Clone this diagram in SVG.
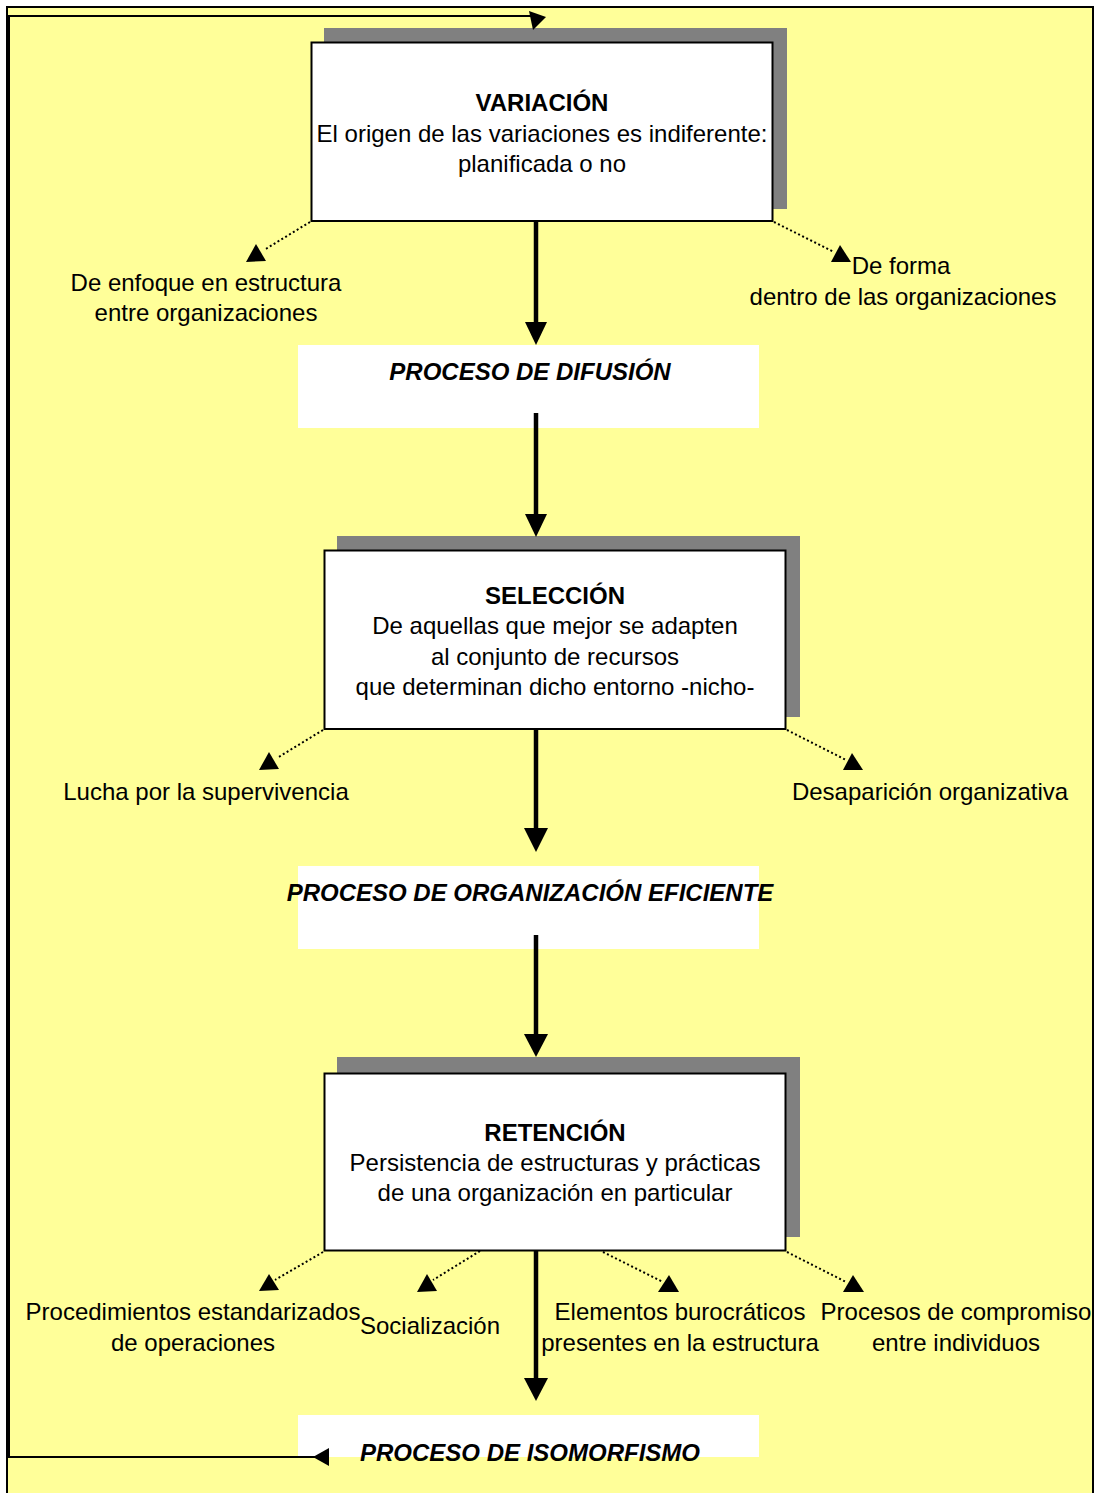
<svg xmlns="http://www.w3.org/2000/svg" width="1098" height="1493" viewBox="0 0 1098 1493">
  <style>
    text { font-family: "Liberation Sans", Arial, sans-serif; font-size: 24px; fill: #000; }
    .title { font-weight: bold; text-anchor: middle; }
    .body { text-anchor: middle; }
    .proc { font-weight: bold; font-style: italic; text-anchor: middle; }
    .label { text-anchor: middle; }
    .shadow { fill: #808080; }
    .box { fill: #fff; stroke: #000; stroke-width: 2; }
    .band { fill: #fff; }
    .flow { stroke: #000; stroke-width: 4.5; fill: none; }
    .dot { stroke: #000; stroke-width: 2; stroke-dasharray: 2 2.5; fill: none; }
    .head { fill: #000; }
    .loop { stroke: #000; stroke-width: 2; fill: none; }
  </style>

  <!-- background panel -->
  <rect x="7" y="7" width="1086" height="1500" fill="#FFFF99" stroke="#000" stroke-width="2"/>

  <!-- process boxes -->
  <g id="variacion">
    <rect class="shadow" x="324" y="28" width="463" height="181"/>
    <rect class="box" x="311.5" y="42.5" width="461" height="178.5"/>
    <text class="title" x="542" y="111">VARIACIÓN</text>
    <text class="body" x="542" y="142">El origen de las variaciones es indiferente:</text>
    <text class="body" x="542" y="172">planificada o no</text>
  </g>

  <g id="difusion">
    <rect class="band" x="298" y="345" width="461" height="83"/>
    <text class="proc" x="530" y="380">PROCESO DE DIFUSIÓN</text>
  </g>

  <g id="seleccion">
    <rect class="shadow" x="337" y="536" width="463" height="181"/>
    <rect class="box" x="324.5" y="550.5" width="461" height="178.5"/>
    <text class="title" x="555" y="604">SELECCIÓN</text>
    <text class="body" x="555" y="634">De aquellas que mejor se adapten</text>
    <text class="body" x="555" y="665">al conjunto de recursos</text>
    <text class="body" x="555" y="695">que determinan dicho entorno -nicho-</text>
  </g>

  <g id="organizacion">
    <rect class="band" x="298" y="866" width="461" height="83"/>
    <text class="proc" x="530" y="901">PROCESO DE ORGANIZACIÓN EFICIENTE</text>
  </g>

  <g id="retencion">
    <rect class="shadow" x="337" y="1057" width="463" height="180"/>
    <rect class="box" x="324.5" y="1073.5" width="461" height="177"/>
    <text class="title" x="555" y="1141">RETENCIÓN</text>
    <text class="body" x="555" y="1171">Persistencia de estructuras y prácticas</text>
    <text class="body" x="555" y="1201">de una organización en particular</text>
  </g>

  <g id="isomorfismo">
    <rect class="band" x="298" y="1415" width="461" height="42"/>
    <text class="proc" x="530" y="1461">PROCESO DE ISOMORFISMO</text>
  </g>

  <!-- side labels -->
  <g id="lbl-enfoque">
    <text class="label" x="206" y="291">De enfoque en estructura</text>
    <text class="label" x="206" y="321">entre organizaciones</text>
  </g>
  <g id="lbl-forma">
    <text class="label" x="901" y="274">De forma</text>
    <text class="label" x="903" y="305">dentro de las organizaciones</text>
  </g>
  <g id="lbl-lucha">
    <text class="label" x="206" y="800">Lucha por la supervivencia</text>
  </g>
  <g id="lbl-desaparicion">
    <text class="label" x="930" y="800">Desaparición organizativa</text>
  </g>
  <g id="lbl-procedimientos">
    <text class="label" x="193" y="1320">Procedimientos estandarizados</text>
    <text class="label" x="193" y="1351">de operaciones</text>
  </g>
  <g id="lbl-socializacion">
    <text class="label" x="430" y="1334">Socialización</text>
  </g>
  <g id="lbl-elementos">
    <text class="label" x="680" y="1320">Elementos burocráticos</text>
    <text class="label" x="680" y="1351">presentes en la estructura</text>
  </g>
  <g id="lbl-compromiso">
    <text class="label" x="956" y="1320">Procesos de compromiso</text>
    <text class="label" x="956" y="1351">entre individuos</text>
  </g>

  <!-- connectors -->
  <g id="connectors">
    <!-- main flow -->
    <line class="flow" x1="536" y1="221" x2="536" y2="324"/>
    <polygon class="head" points="525,322 547,322 536,345"/>
    <line class="flow" x1="536" y1="413" x2="536" y2="516"/>
    <polygon class="head" points="525,514 547,514 536,537"/>
    <line class="flow" x1="536" y1="729" x2="536" y2="830"/>
    <polygon class="head" points="524,828 548,828 536,852"/>
    <line class="flow" x1="536" y1="935" x2="536" y2="1036"/>
    <polygon class="head" points="524,1034 548,1034 536,1057"/>
    <line class="flow" x1="536" y1="1250" x2="536" y2="1380"/>
    <polygon class="head" points="524,1378 548,1378 536,1401"/>

    <!-- dotted branches -->
    <line class="dot" x1="310" y1="222" x2="264" y2="250"/>
    <polygon class="head" points="246,262 266,261 256,244"/>
    <line class="dot" x1="774" y1="222" x2="834" y2="252"/>
    <polygon class="head" points="831,262 851,262 840,245"/>

    <line class="dot" x1="323" y1="730" x2="277" y2="758"/>
    <polygon class="head" points="259,770 279,769 269,752"/>
    <line class="dot" x1="787" y1="730" x2="846" y2="760"/>
    <polygon class="head" points="843,770 863,770 852,753"/>

    <line class="dot" x1="323" y1="1252" x2="275" y2="1280"/>
    <polygon class="head" points="259,1291 279,1290 269,1274"/>
    <line class="dot" x1="480" y1="1251" x2="433" y2="1280"/>
    <polygon class="head" points="417,1292 437,1291 427,1274"/>
    <line class="dot" x1="603" y1="1252" x2="663" y2="1282"/>
    <polygon class="head" points="658,1292 679,1292 669,1275"/>
    <line class="dot" x1="787" y1="1252" x2="846" y2="1282"/>
    <polygon class="head" points="843,1292 864,1292 853,1275"/>

    <!-- feedback loop back to variation -->
    <polyline class="loop" points="326,1457 9,1457 9,16 535,16"/>
    <polygon class="head" points="313,1457 329,1448 329,1466"/>
    <polygon class="head" points="529,11 546,17 533,30"/>
  </g>
</svg>
